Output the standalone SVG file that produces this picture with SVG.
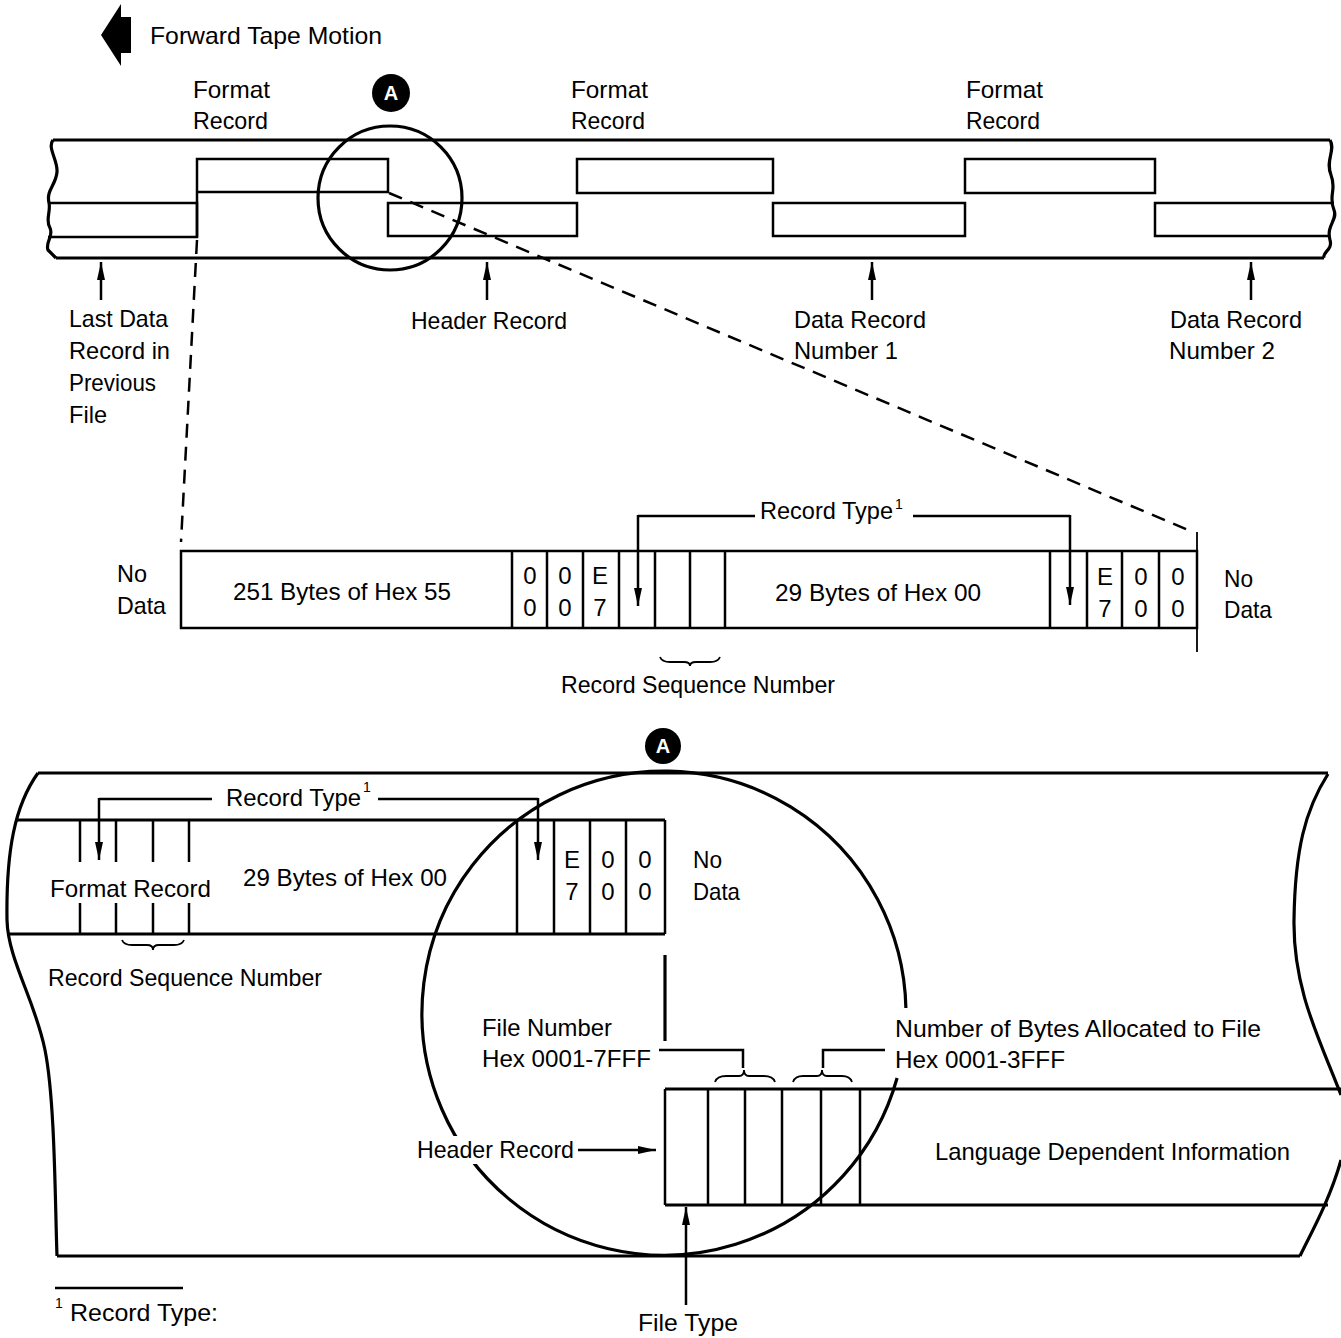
<svg xmlns="http://www.w3.org/2000/svg" width="1341" height="1338" viewBox="0 0 1341 1338">
<style>
.t{font-family:"Liberation Sans",Arial,Helvetica,sans-serif;font-size:24px;fill:#000}
.m{text-anchor:middle}
.sup{font-family:"Liberation Sans",Arial,sans-serif;font-size:14px;fill:#000}
.ln{stroke:#000;stroke-width:2.5;fill:none}
.tk{stroke:#000;stroke-width:3.2;fill:none}
.th{stroke:#000;stroke-width:1.8;fill:none}
.ds{stroke:#000;stroke-width:2.5;fill:none;stroke-dasharray:14 9}
.badge{fill:#000}
.bt{font-family:"Liberation Sans",Arial,sans-serif;font-size:20px;font-weight:bold;fill:#fff;text-anchor:middle}
</style>
<defs>
<marker id="ah" viewBox="0 0 18 8" refX="18" refY="4" markerWidth="18" markerHeight="8" markerUnits="userSpaceOnUse" orient="auto">
<path d="M0,0 L18,4 L0,8 z" fill="#000"/>
</marker>
</defs>
<rect width="1341" height="1338" fill="#fff"/>

<g id="tape-motion">
<polygon points="101,35 121,4 121,17 131,17 131,53 121,53 121,66" fill="#000"/>
<text class="t" x="150" y="44" textLength="232" lengthAdjust="spacingAndGlyphs">Forward Tape Motion</text>
</g>

<g id="top-tape">
<path class="tk" d="M53 140 H1330"/>
<path class="tk" d="M56 258 H1324"/>
<path class="tk" d="M53 140 C47 148 58 160 57 172 C56 185 46 190 49 203 C51 212 45 220 50 228 C54 236 45 242 48 250 L56 258"/>
<path class="tk" d="M1330 140 C1336 150 1325 160 1331 175 C1337 190 1328 195 1334 210 C1338 220 1326 225 1330 240 C1333 250 1322 252 1324 258"/>
</g>

<g id="last-data-block"><path class="ln" d="M49 203 H197 V237 H48"/></g>
<g id="format-record-1"><path class="ln" d="M197 237 V159 H388 V192 H197"/></g>
<g id="header-block"><path class="ln" d="M388 236 V203 H577 V236 Z"/></g>
<g id="format-record-2"><rect class="ln" x="577" y="159" width="196" height="34"/></g>
<g id="data-record-1-block"><rect class="ln" x="773" y="203" width="192" height="33"/></g>
<g id="format-record-3"><rect class="ln" x="965" y="159" width="190" height="34"/></g>
<g id="data-record-2-block"><path class="ln" d="M1334 203 H1155 V236 H1330"/></g>

<g id="top-labels">
<text class="t" x="193" y="98" textLength="77" lengthAdjust="spacingAndGlyphs">Format</text>
<text class="t" x="193" y="129" textLength="75" lengthAdjust="spacingAndGlyphs">Record</text>
<text class="t" x="571" y="98" textLength="77" lengthAdjust="spacingAndGlyphs">Format</text>
<text class="t" x="571" y="129" textLength="74" lengthAdjust="spacingAndGlyphs">Record</text>
<text class="t" x="966" y="98" textLength="77" lengthAdjust="spacingAndGlyphs">Format</text>
<text class="t" x="966" y="129" textLength="74" lengthAdjust="spacingAndGlyphs">Record</text>
</g>

<g id="badge-a-top">
<circle class="badge" cx="391" cy="93" r="19"/>
<text class="bt" x="391" y="100">A</text>
</g>

<g id="magnifier-top"><circle class="tk" cx="390" cy="198" r="72"/></g>

<g id="label-last-data">
<text class="t" x="69" y="327" textLength="99" lengthAdjust="spacingAndGlyphs">Last Data</text>
<text class="t" x="69" y="359" textLength="101" lengthAdjust="spacingAndGlyphs">Record in</text>
<text class="t" x="69" y="391" textLength="87" lengthAdjust="spacingAndGlyphs">Previous</text>
<text class="t" x="69" y="423" textLength="38" lengthAdjust="spacingAndGlyphs">File</text>
</g>
<g id="label-header-record"><text class="t" x="411" y="329" textLength="156" lengthAdjust="spacingAndGlyphs">Header Record</text></g>
<g id="label-data-1">
<text class="t" x="794" y="328" textLength="132" lengthAdjust="spacingAndGlyphs">Data Record</text>
<text class="t" x="794" y="359" textLength="104" lengthAdjust="spacingAndGlyphs">Number 1</text>
</g>
<g id="label-data-2">
<text class="t" x="1170" y="328" textLength="132" lengthAdjust="spacingAndGlyphs">Data Record</text>
<text class="t" x="1169" y="359" textLength="106" lengthAdjust="spacingAndGlyphs">Number 2</text>
</g>

<g id="record-strip">
<rect class="ln" x="181" y="551" width="1016" height="77"/>
<path class="ln" d="M512 551V628 M547 551V628 M583 551V628 M619 551V628 M655 551V628 M690 551V628 M725 551V628 M1050 551V628 M1087 551V628 M1122 551V628 M1159 551V628"/>
<text class="t m" x="342" y="600" textLength="218" lengthAdjust="spacingAndGlyphs">251 Bytes of Hex 55</text>
<text class="t m" x="530" y="584">0</text><text class="t m" x="530" y="616">0</text>
<text class="t m" x="565" y="584">0</text><text class="t m" x="565" y="616">0</text>
<text class="t m" x="600" y="584">E</text><text class="t m" x="600" y="616">7</text>
<text class="t m" x="878" y="601" textLength="206" lengthAdjust="spacingAndGlyphs">29 Bytes of Hex 00</text>
<text class="t m" x="1105" y="585">E</text><text class="t m" x="1105" y="617">7</text>
<text class="t m" x="1141" y="585">0</text><text class="t m" x="1141" y="617">0</text>
<text class="t m" x="1178" y="585">0</text><text class="t m" x="1178" y="617">0</text>
<text class="t" x="117" y="582" textLength="30" lengthAdjust="spacingAndGlyphs">No</text>
<text class="t" x="117" y="614" textLength="49" lengthAdjust="spacingAndGlyphs">Data</text>
<text class="t" x="1224" y="587" textLength="29" lengthAdjust="spacingAndGlyphs">No</text>
<text class="t" x="1224" y="618" textLength="48" lengthAdjust="spacingAndGlyphs">Data</text>
<text class="t" x="561" y="693" textLength="274" lengthAdjust="spacingAndGlyphs">Record Sequence Number</text>
<text class="t" x="760" y="519" textLength="133" lengthAdjust="spacingAndGlyphs">Record Type</text>
<text class="sup" x="895" y="509">1</text>
</g>

<g id="lower-tape">
<path class="tk" d="M38 773 H1328"/>
<path class="tk" d="M57 1256 H1300"/>
<path class="tk" d="M38 773 C15 805 6 850 7 920 C8 960 35 1000 45 1050 C55 1100 55 1200 57 1256"/>
<path class="tk" d="M1328 774 C1305 810 1295 850 1294 920 C1293 990 1320 1040 1341 1095"/>
<path class="tk" d="M1341 1160 C1330 1200 1310 1235 1300 1256"/>
</g>

<g id="format-record-detail">
<path class="tk" d="M17 820 H665"/>
<path class="tk" d="M8 934 H665"/>
<path class="ln" d="M80 820V862 M80 903V934 M116 820V862 M116 903V934 M153 820V862 M153 903V934 M189 820V862 M189 903V934"/>
<path class="ln" d="M517 820V934 M554 820V934 M590 820V934 M626 820V934 M665 820V934"/>
<text class="t" x="50" y="897" textLength="161" lengthAdjust="spacingAndGlyphs">Format Record</text>
<text class="t" x="243" y="886" textLength="204" lengthAdjust="spacingAndGlyphs">29 Bytes of Hex 00</text>
<text class="t m" x="572" y="868">E</text><text class="t m" x="572" y="900">7</text>
<text class="t m" x="608" y="868">0</text><text class="t m" x="608" y="900">0</text>
<text class="t m" x="645" y="868">0</text><text class="t m" x="645" y="900">0</text>
<text class="t" x="693" y="868" textLength="29" lengthAdjust="spacingAndGlyphs">No</text>
<text class="t" x="693" y="900" textLength="47" lengthAdjust="spacingAndGlyphs">Data</text>
<text class="t" x="48" y="986" textLength="274" lengthAdjust="spacingAndGlyphs">Record Sequence Number</text>
<text class="t" x="226" y="806" textLength="135" lengthAdjust="spacingAndGlyphs">Record Type</text>
<text class="sup" x="363" y="792">1</text>
</g>

<g id="header-record-detail">
<path class="tk" d="M665 1089 H1341"/>
<path class="tk" d="M665 1205 H1328"/>
<path class="ln" d="M665 1089V1205 M708 1089V1205 M745 1089V1205 M782 1089V1205 M821 1089V1205 M860 1089V1205"/>
<text class="t" x="935" y="1160" textLength="355" lengthAdjust="spacingAndGlyphs">Language Dependent Information</text>
<text class="t" x="482" y="1036" textLength="130" lengthAdjust="spacingAndGlyphs">File Number</text>
<text class="t" x="482" y="1067" textLength="169" lengthAdjust="spacingAndGlyphs">Hex 0001-7FFF</text>
<text class="t" x="895" y="1037" textLength="366" lengthAdjust="spacingAndGlyphs">Number of Bytes Allocated to File</text>
<text class="t" x="895" y="1068" textLength="170" lengthAdjust="spacingAndGlyphs">Hex 0001-3FFF</text>
<text class="t" x="638" y="1331" textLength="100" lengthAdjust="spacingAndGlyphs">File Type</text>
</g>

<g id="magnifier-bottom">
<path class="tk" d="M897.1 1078 A242 242 0 1 1 905.9 1008"/>
</g>

<g id="badge-a-bottom">
<circle class="badge" cx="663" cy="746" r="18"/>
<text class="bt" x="663" y="753">A</text>
</g>

<g id="header-record-label">
<rect x="414" y="1136" width="163" height="28" fill="#fff"/>
<text class="t" x="417" y="1158" textLength="157" lengthAdjust="spacingAndGlyphs">Header Record</text>
</g>

<g id="connectors">
<path class="ds" d="M197 240 L181 542"/>
<path class="ds" d="M389 193 L1193 532"/>
<path class="th" d="M1197 532 V551 M1197 628 V652"/>
<path class="ln" marker-end="url(#ah)" d="M101 300 V262"/>
<path class="ln" marker-end="url(#ah)" d="M487 300 V262"/>
<path class="ln" marker-end="url(#ah)" d="M872 300 V262"/>
<path class="ln" marker-end="url(#ah)" d="M1251 300 V262"/>
<path class="ln" d="M755 516 H638"/>
<path class="ln" marker-end="url(#ah)" d="M638 515 V606"/>
<path class="ln" d="M913 516 H1070"/>
<path class="ln" marker-end="url(#ah)" d="M1070 515 V605"/>
<path class="th" d="M660 657 Q662 662 670 662 L684 662 Q690 662 690 666 Q690 662 696 662 L710 662 Q718 662 720 657"/>
<path class="ln" d="M212 799 H99"/>
<path class="ln" marker-end="url(#ah)" d="M99 798 V860"/>
<path class="ln" d="M378 799 H538"/>
<path class="ln" marker-end="url(#ah)" d="M538 798 V860"/>
<path class="th" d="M122 940 Q124 945 132 945 L147 945 Q153 945 153 950 Q153 945 159 945 L174 945 Q182 945 184 940"/>
<path class="tk" d="M665 955 V1041"/>
<path class="ln" d="M659 1050 H743 V1068"/>
<path class="ln" d="M885 1050 H823 V1068"/>
<path class="th" d="M715 1082 Q717 1076 726 1076 L739 1076 Q744 1076 744 1070 Q744 1076 749 1076 L764 1076 Q773 1076 775 1082"/>
<path class="th" d="M793 1082 Q795 1076 803 1076 L817 1076 Q822 1076 822 1070 Q822 1076 827 1076 L842 1076 Q850 1076 852 1082"/>
<path class="ln" marker-end="url(#ah)" d="M578 1150 H656"/>
<path class="ln" marker-end="url(#ah)" d="M686 1305 V1207"/>
</g>

<g id="footnote">
<path class="ln" d="M55 1288 H183"/>
<text class="sup" x="55" y="1308">1</text>
<text class="t" x="70" y="1321" textLength="148" lengthAdjust="spacingAndGlyphs">Record Type:</text>
</g>
</svg>
